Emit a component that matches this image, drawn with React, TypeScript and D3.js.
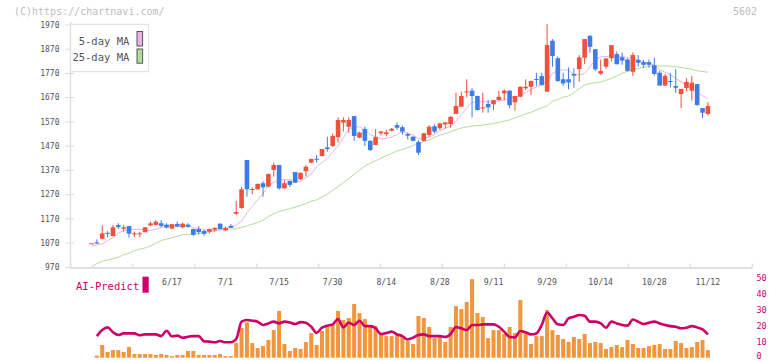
import * as React from 'react';
import * as d3 from 'd3';

// daily candles, index 0 = first trading day shown
const opens = [1068,1073,1088,1112,1099,1144,1129,1140,1109,1109,1115,1143,1145,1152,1146,1130,1149,1135,1146,1128,1128,1120,1117,1125,1150,1122,1141,1191,1215,1413,1291,1292,1317,1303,1372,1392,1296,1327,1363,1333,1367,1402,1418,1429,1465,1471,1507,1567,1550,1594,1505,1541,1492,1475,1523,1520,1534,1557,1548,1520,1509,1487,1492,1516,1552,1544,1560,1561,1603,1633,1694,1699,1677,1628,1644,1643,1660,1688,1699,1651,1674,1709,1715,1747,1759,1695,1905,1833,1746,1746,1768,1788,1835,1925,1870,1769,1798,1833,1850,1837,1828,1777,1826,1817,1817,1804,1773,1720,1739,1718,1685,1710,1699,1726,1627,1603];
const highs = [1070,1085,1143,1119,1145,1152,1144,1141,1117,1117,1136,1158,1165,1165,1152,1149,1159,1154,1152,1129,1140,1124,1130,1134,1151,1138,1149,1244,1302,1413,1300,1316,1326,1357,1403,1393,1330,1327,1364,1361,1392,1418,1433,1459,1509,1522,1589,1589,1589,1594,1530,1550,1494,1540,1534,1537,1545,1568,1555,1526,1510,1495,1525,1557,1561,1567,1570,1594,1690,1695,1746,1709,1678,1690,1660,1660,1698,1705,1701,1678,1717,1746,1740,1773,1773,1974,1912,1840,1773,1795,1791,1846,1912,1929,1870,1828,1832,1887,1860,1857,1832,1857,1846,1826,1828,1835,1781,1768,1771,1787,1706,1750,1760,1726,1627,1652];
const lows = [1068,1067,1087,1094,1098,1128,1117,1092,1094,1094,1114,1140,1143,1134,1131,1127,1136,1131,1134,1100,1105,1100,1110,1117,1127,1120,1132,1186,1212,1261,1272,1290,1261,1301,1344,1290,1294,1302,1318,1330,1345,1400,1402,1428,1447,1466,1484,1530,1525,1492,1503,1471,1450,1474,1514,1510,1530,1537,1518,1498,1490,1433,1490,1509,1523,1537,1543,1546,1603,1633,1672,1589,1617,1608,1608,1619,1658,1660,1626,1616,1672,1702,1681,1718,1721,1694,1798,1735,1719,1705,1711,1736,1808,1856,1780,1764,1788,1819,1808,1806,1777,1760,1798,1794,1794,1761,1720,1720,1712,1690,1627,1697,1658,1636,1587,1596];
const closes = [1069,1068,1110,1108,1135,1136,1135,1109,1110,1110,1135,1151,1158,1141,1134,1148,1138,1150,1137,1104,1115,1108,1128,1133,1128,1133,1133,1198,1292,1292,1293,1314,1300,1355,1392,1296,1317,1310,1319,1360,1385,1417,1417,1458,1458,1512,1578,1578,1578,1512,1526,1492,1454,1507,1530,1527,1542,1546,1530,1513,1492,1443,1523,1550,1530,1564,1568,1591,1636,1677,1696,1677,1619,1630,1630,1660,1674,1699,1639,1677,1715,1715,1739,1745,1722,1887,1842,1739,1729,1733,1761,1836,1912,1880,1787,1780,1832,1887,1808,1823,1781,1846,1814,1806,1806,1768,1720,1760,1738,1711,1706,1735,1732,1640,1608,1636];

const ma5 = [1058,1062,1067,1080,1092,1110,1122,1127,1127,1127,1123,1122,1127,1135,1139,1140,1140,1140,1139,1134,1130,1125,1122,1121,1124,1128,1136,1145,1160,1195,1222,1250,1275,1305,1322,1330,1332,1333,1328,1323,1340,1355,1385,1403,1420,1445,1470,1505,1540,1548,1550,1535,1518,1508,1500,1502,1508,1518,1530,1524,1515,1502,1503,1508,1518,1532,1545,1552,1572,1600,1628,1650,1653,1653,1653,1653,1656,1660,1666,1672,1680,1692,1703,1714,1725,1737,1770,1782,1785,1784,1766,1764,1770,1798,1826,1838,1840,1842,1841,1839,1836,1832,1826,1816,1810,1804,1786,1775,1764,1750,1735,1722,1708,1690,1678,1667];
const ma25 = [972,985,995,1000,1006,1011,1022,1028,1039,1045,1050,1058,1070,1080,1087,1092,1098,1104,1106,1107,1109,1113,1116,1121,1125,1127,1128,1129,1135,1141,1148,1155,1164,1180,1190,1200,1206,1212,1218,1225,1233,1243,1248,1260,1273,1288,1303,1320,1336,1354,1372,1388,1400,1410,1420,1431,1440,1450,1456,1464,1472,1481,1489,1495,1506,1516,1522,1530,1538,1545,1549,1553,1555,1557,1560,1564,1568,1573,1578,1587,1594,1603,1610,1619,1628,1636,1655,1662,1672,1677,1690,1707,1722,1728,1732,1735,1742,1750,1760,1770,1780,1787,1791,1795,1799,1801,1801,1801,1800,1798,1795,1791,1787,1781,1778,1775];

// lower panel starts at the second trading day
const volumes = [1.3,8.0,3.6,4.8,4.8,3.6,6.7,2.3,2.3,2.3,2.3,1.7,2.3,1.7,1.0,1.7,1.7,4.2,4.2,1.7,1.7,1.7,1.7,2.3,1.0,1.0,9.2,18.7,22.3,9.2,6.1,7.3,11.1,17.4,29.4,8.6,4.2,6.1,5.5,9.9,15.5,8.0,16.8,19.3,20.6,29.4,23.7,25.0,33.8,28.1,24.3,19.3,19.9,15.5,13.6,13.6,14.3,13.0,10.5,8.6,26.2,25.0,19.3,12.4,13.0,9.9,19.3,32.5,30.6,35.1,49.5,28.1,25.6,12.4,17.4,17.4,14.9,19.3,15.5,36.3,15.5,8.6,13.6,13.6,30.0,17.4,14.3,11.8,9.9,13.0,11.8,14.9,9.2,9.9,9.2,5.5,6.7,8.0,6.7,11.1,8.6,6.1,6.1,7.3,8.0,8.6,5.5,5.5,10.5,9.2,6.1,6.7,9.9,11.1,4.8];
const aiPredict = [13.6,17.4,19.1,16.0,14.3,15.3,15.3,15.3,14.1,14.7,14.7,14.7,13.6,17.0,13.4,13.9,12.6,13.2,13.6,13.6,10.3,10.1,9.7,10.5,9.7,9.7,11.8,22.7,23.7,23.3,22.7,20.6,21.6,22.7,21.6,22.7,22.2,21.2,22.4,22.0,19.5,15.7,18.9,20.2,21.0,24.3,19.1,22.2,20.6,23.3,19.9,19.9,18.5,14.9,15.5,16.4,14.7,13.6,11.5,12.6,14.3,14.7,13.6,13.6,13.6,13.0,14.9,19.3,18.5,17.4,20.6,20.6,21.0,21.0,21.0,19.5,16.4,13.0,12.8,16.8,16.0,14.7,15.3,20.6,28.5,24.8,21.0,20.6,24.8,25.8,26.9,26.4,22.7,22.7,21.6,18.9,22.7,21.6,20.6,20.2,24.1,22.7,21.2,22.0,22.7,21.6,20.6,19.9,19.5,18.5,18.9,19.9,19.1,17.8,14.7];

const dateLabels = ['6/17','7/1','7/15','7/30','8/14','8/28','9/11','9/29','10/14','10/28','11/12'];
const dateLabelIdx = [15,25,35,45,55,65,75,85,95,105,115];
const priceTicks = [970,1070,1170,1270,1370,1470,1570,1670,1770,1870,1970];
const aiTicks = [0,10,20,30,40,50];

const RED = '#f0503c';
const BLUE = '#3c7ce6';
const PINK = '#e8b4e8';
const GREEN = '#b4dca0';
const CRIMSON = '#cc0066';
const ORANGE = '#f0963c';
const MONO = '"DejaVu Sans Mono", "Liberation Mono", monospace';

export default function App() {
  const n = closes.length;
  const x = d3.scaleLinear().domain([0, n - 1]).range([91.5, 707.9]);
  const y = d3.scaleLinear().domain([970, 1970]).range([267.3, 25]);
  const yb = d3.scaleLinear().domain([0, 50]).range([357.7, 278.3]);
  const panelStart = 1;

  const maLine = d3.line<number>().x((_, i) => x(i)).y(d => y(d));
  const aiLine = d3.line<number>().x((_, i) => x(i + panelStart)).y(d => yb(d)).curve(d3.curveMonotoneX);

  const axisTicks = d3.range(12).map(k => 70.7 + k * (752.3 - 70.7) / 11);
  const cw = 4.6;

  return (
    <svg width={772} height={361} style={{ position: 'absolute', left: 0, top: 0 }} fontFamily={MONO}>
      <rect width={772} height={361} fill="#fff" />
      <text x={14} y={15} fontSize={10} fill="#bdbdbd">(C)https://chartnavi.com/</text>
      <text x={757} y={15} fontSize={10} fill="#bdbdbd" textAnchor="end">5602</text>

      {/* price axis */}
      <line x1={70.5} x2={70.5} y1={22} y2={268} stroke="#e0e0e0" strokeWidth={1.5} />
      {priceTicks.map(t => (
        <g key={t}>
          <line x1={65.5} x2={74} y1={y(t)} y2={y(t)} stroke="#d8d8d8" />
          <text x={59.5} y={y(t)} dy="0.35em" fontSize={8} fill="#555" textAnchor="end">{t}</text>
        </g>
      ))}
      <line x1={70} x2={752.5} y1={268} y2={268} stroke="#e0e0e0" strokeWidth={2} />
      {axisTicks.map((tx, k) => (
        <line key={k} x1={tx} x2={tx} y1={263.5} y2={268} stroke="#e0e0e0" strokeWidth={1.5} />
      ))}
      {dateLabels.map((lab, k) => (
        <text key={lab} x={x(dateLabelIdx[k])} y={285} fontSize={8.2} fill="#555" textAnchor="middle">{lab}</text>
      ))}

      {/* moving averages */}
      <path d={maLine(ma25) ?? ''} fill="none" stroke={GREEN} strokeWidth={1} />
      <path d={maLine(ma5) ?? ''} fill="none" stroke={PINK} strokeWidth={1} />

      {/* candles */}
      {closes.map((c, i) => {
        const o = opens[i];
        const col = c >= o ? RED : BLUE;
        const top = y(Math.max(o, c));
        const h = Math.max(1, y(Math.min(o, c)) - top);
        return (
          <g key={i}>
            <line x1={x(i)} x2={x(i)} y1={y(highs[i])} y2={y(lows[i])} stroke={col} strokeWidth={1} />
            <rect x={x(i) - cw / 2} y={top} width={cw} height={h} fill={col} />
          </g>
        );
      })}

      {/* legend */}
      <rect x={70.7} y={24.3} width={77.6} height={47.4} fill="#fff" stroke="#dedede" strokeWidth={1} />
      <text x={129.3} y={44.5} fontSize={10.5} fill="#555" textAnchor="end">5-day MA</text>
      <text x={129.3} y={61} fontSize={10.5} fill="#555" textAnchor="end">25-day MA</text>
      <rect x={137} y={31.5} width={5.6} height={14.5} fill={PINK} stroke="#555" strokeWidth={1} />
      <rect x={137} y={49} width={5.6} height={14.2} fill={GREEN} stroke="#555" strokeWidth={1} />

      {/* AI-Predict panel */}
      <text x={76} y={290} fontSize={10.5} fill={CRIMSON}>AI-Predict</text>
      <rect x={142.5} y={276.7} width={6.2} height={16} fill={CRIMSON} />
      {volumes.map((v, j) => (
        <rect key={j} x={x(j + panelStart) - 2} y={yb(v)} width={4} height={yb(0) - yb(v)} fill={ORANGE} />
      ))}
      <path d={aiLine(aiPredict) ?? ''} fill="none" stroke={CRIMSON} strokeWidth={2.6} strokeLinejoin="round" />
      {aiTicks.map(t => (
        <text key={t} x={756.5} y={Math.min(yb(t) + 3, 359.3)} fontSize={8.5} fill={CRIMSON}>{t}</text>
      ))}
    </svg>
  );
}
